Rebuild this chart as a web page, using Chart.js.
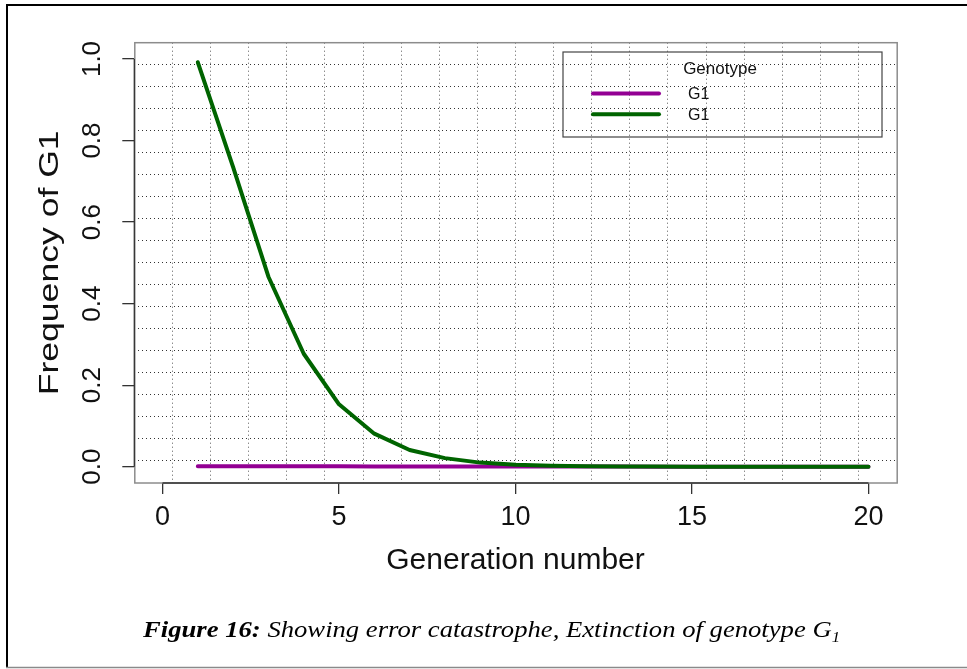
<!DOCTYPE html>
<html>
<head>
<meta charset="utf-8">
<title>Figure 16</title>
<script src="https://cdn.jsdelivr.net/npm/chart.js@4.4.1/dist/chart.umd.min.js"></script>
<style>
  html, body { margin: 0; padding: 0; background: #fff; }
  #plot { display: block; }
</style>
</head>
<body>
<canvas id="plot" width="967" height="669"></canvas>
<script>
// generation 1..20
var GENERATIONS = [1, 2, 3, 4, 5, 6, 7, 8, 9, 10, 11, 12, 13, 14, 15, 16, 17, 18, 19, 20];

// frequency of G1
var FREQ_PURPLE = [0.0012, 0.0011, 0.001, 0.0009, 0.0008, 0.0007, 0.0006, 0.0005, 0.0004, 0.0003,
                   0.0003, 0.0002, 0.0002, 0.0001, 0.0001, 0.0001, 0, 0, 0, 0];
var FREQ_GREEN = [0.992, 0.735, 0.466, 0.277, 0.153, 0.081, 0.041, 0.021, 0.010, 0.005,
                  0.0025, 0.0012, 0.0006, 0.0003, 0.00015, 0.00008, 0.00004, 0.00002, 0.00001, 0.000005];

var X_TICKS = [0, 5, 10, 15, 20];
var Y_TICKS = [0, 0.2, 0.4, 0.6, 0.8, 1.0];

var X_TITLE = 'Generation number';
var Y_TITLE = 'Frequency of G1';
var LEGEND_TITLE = 'Genotype';
var LEGEND_LABELS = ['G1', 'G1'];
var SERIES_COLORS = ['#930093', '#006400'];

var X_MIN = -0.8, X_MAX = 20.8;
var Y_MIN = -0.04, Y_MAX = 1.04;
var GRID_DIVS = 20;

var SANS = '"Liberation Sans", Arial, sans-serif';
var SERIF = '"Liberation Serif", "Times New Roman", serif';

function toPoints(ys) {
  return GENERATIONS.map(function (g, i) { return { x: g, y: ys[i] }; });
}

function fixedTicks(values) {
  return function (scale) {
    scale.ticks = values.map(function (v) { return { value: v }; });
  };
}

// R's grid(): equally spaced lines across the plotting region
function gridTicks(scale) {
  var out = [];
  var step = (scale.max - scale.min) / GRID_DIVS;
  for (var k = 1; k < GRID_DIVS; k++) out.push({ value: scale.min + k * step });
  scale.ticks = out;
}

var decor = {
  id: 'decor',
  beforeDraw: function (chart) {
    var ctx = chart.ctx;
    ctx.save();
    ctx.fillStyle = '#fff';
    ctx.fillRect(0, 0, chart.width, chart.height);
    ctx.restore();
  },
  afterDraw: function (chart) {
    var ctx = chart.ctx;
    var a = chart.chartArea;
    var xs = chart.scales.x, ys = chart.scales.y;
    ctx.save();

    // plot box
    ctx.strokeStyle = '#8c8c8c';
    ctx.lineWidth = 1.5;
    ctx.strokeRect(a.left + 0.5, a.top, a.right - a.left, a.bottom - a.top);

    // axis lines from first to last tick
    ctx.strokeStyle = '#333';
    ctx.lineWidth = 1.3;
    ctx.beginPath();
    ctx.moveTo(a.left, ys.getPixelForValue(Y_TICKS[0]));
    ctx.lineTo(a.left, ys.getPixelForValue(Y_TICKS[Y_TICKS.length - 1]));
    ctx.moveTo(xs.getPixelForValue(X_TICKS[0]), a.bottom);
    ctx.lineTo(xs.getPixelForValue(X_TICKS[X_TICKS.length - 1]), a.bottom);
    ctx.stroke();

    // y tick labels, parallel to the axis
    ctx.fillStyle = '#111';
    ctx.font = '26px ' + SANS;
    ctx.textAlign = 'center';
    ctx.textBaseline = 'middle';
    ys.ticks.forEach(function (t) {
      ctx.save();
      ctx.translate(93, ys.getPixelForValue(t.value));
      ctx.rotate(-Math.PI / 2);
      ctx.fillText(t.value.toFixed(1), 0, 0);
      ctx.restore();
    });

    // y axis title (stretched along its length like the source)
    ctx.save();
    ctx.font = '28px ' + SANS;
    ctx.translate(50, (a.top + a.bottom) / 2);
    ctx.rotate(-Math.PI / 2);
    ctx.scale(265 / ctx.measureText(Y_TITLE).width, 1);
    ctx.fillText(Y_TITLE, 0, 0);
    ctx.restore();

    // legend
    var lx = 563, ly = 52, lw = 319, lh = 85;
    ctx.strokeStyle = '#444';
    ctx.lineWidth = 1.2;
    ctx.strokeRect(lx, ly, lw, lh);
    ctx.fillStyle = '#111';
    ctx.textAlign = 'center';
    ctx.font = '17px ' + SANS;
    ctx.fillText(LEGEND_TITLE, 720, 69);
    ctx.textAlign = 'left';
    ctx.font = '16px ' + SANS;
    LEGEND_LABELS.forEach(function (lab, i) {
      var yy = 93.5 + i * 20.7;
      ctx.strokeStyle = SERIES_COLORS[i];
      ctx.lineWidth = 4;
      ctx.lineCap = 'round';
      ctx.beginPath();
      ctx.moveTo(593, yy);
      ctx.lineTo(659, yy);
      ctx.stroke();
      ctx.fillText(lab, 688, yy + 1);
    });

    // outer frame
    ctx.lineCap = 'butt';
    ctx.strokeStyle = '#000';
    ctx.lineWidth = 2;
    ctx.beginPath();
    ctx.moveTo(6, 5);
    ctx.lineTo(chart.width, 5);
    ctx.moveTo(7, 4);
    ctx.lineTo(7, 668);
    ctx.stroke();
    ctx.strokeStyle = '#8a8a8a';
    ctx.lineWidth = 1.5;
    ctx.beginPath();
    ctx.moveTo(6, 667.5);
    ctx.lineTo(chart.width, 667.5);
    ctx.stroke();

    // caption, fitted to the source width
    var p1 = 'Figure 16:';
    var p2 = ' Showing error catastrophe, Extinction of genotype G';
    var fBold = 'bold italic 24px ' + SERIF;
    var fIt = 'italic 24px ' + SERIF;
    var fSub = 'italic 15px ' + SERIF;
    ctx.font = fBold; var w1 = ctx.measureText(p1).width;
    ctx.font = fIt; var w2 = ctx.measureText(p2).width;
    ctx.font = fSub; var w3 = ctx.measureText('1').width;
    var sx = 697 / (w1 + w2 + w3);
    ctx.save();
    ctx.translate(143, 637);
    ctx.scale(sx, 1);
    ctx.fillStyle = '#000';
    ctx.textAlign = 'left';
    ctx.textBaseline = 'alphabetic';
    ctx.font = fBold; ctx.fillText(p1, 0, 0);
    ctx.font = fIt; ctx.fillText(p2, w1, 0);
    ctx.font = fSub; ctx.fillText('1', w1 + w2, 5);
    ctx.restore();

    ctx.restore();
  }
};

new Chart(document.getElementById('plot'), {
  type: 'line',
  data: {
    datasets: [{
      label: LEGEND_LABELS[0],
      data: toPoints(FREQ_PURPLE),
      borderColor: SERIES_COLORS[0],
      borderWidth: 4,
      pointRadius: 0,
      tension: 0,
      borderCapStyle: 'round',
      borderJoinStyle: 'round',
      order: 1
    }, {
      label: LEGEND_LABELS[1],
      data: toPoints(FREQ_GREEN),
      borderColor: SERIES_COLORS[1],
      borderWidth: 4,
      pointRadius: 0,
      tension: 0,
      borderCapStyle: 'round',
      borderJoinStyle: 'round',
      order: 0
    }]
  },
  options: {
    responsive: false,
    animation: false,
    devicePixelRatio: 1,
    layout: { padding: { left: 0, right: 70.3, top: 42.7, bottom: 90 } },
    plugins: {
      legend: { display: false },
      tooltip: { enabled: false }
    },
    scales: {
      x: {
        type: 'linear',
        min: X_MIN, max: X_MAX,
        bounds: 'data',
        afterBuildTicks: fixedTicks(X_TICKS),
        afterFit: function (s) { s.height = 96; },
        grid: { drawOnChartArea: false, drawTicks: true, tickLength: 11, color: '#333', lineWidth: 1.3 },
        border: { display: false },
        ticks: { color: '#111', font: { family: SANS, size: 27 }, padding: 7, maxRotation: 0 },
        title: {
          display: true,
          text: X_TITLE,
          color: '#111',
          font: { family: SANS, size: 30 },
          padding: { top: 0, bottom: 0 }
        }
      },
      xg: {
        type: 'linear',
        axis: 'x',
        position: 'bottom',
        min: X_MIN, max: X_MAX,
        bounds: 'data',
        afterBuildTicks: gridTicks,
        afterFit: function (s) { s.height = 0; },
        ticks: { display: false },
        grid: { drawTicks: false, color: '#5a5a5a', lineWidth: 1 },
        border: { display: false, dash: [1, 3] }
      },
      y: {
        type: 'linear',
        min: Y_MIN, max: Y_MAX,
        bounds: 'data',
        afterBuildTicks: fixedTicks(Y_TICKS),
        afterFit: function (s) { s.width = 134.3; },
        grid: { drawOnChartArea: false, drawTicks: true, tickLength: 12, color: '#333', lineWidth: 1.3 },
        border: { display: false },
        ticks: { display: false },
        title: { display: false }
      },
      yg: {
        type: 'linear',
        axis: 'y',
        position: 'left',
        min: Y_MIN, max: Y_MAX,
        bounds: 'data',
        afterBuildTicks: gridTicks,
        afterFit: function (s) { s.width = 0; },
        ticks: { display: false },
        grid: { drawTicks: false, color: '#333', lineWidth: 1 },
        border: { display: false, dash: [1, 3] }
      }
    }
  },
  plugins: [decor]
});
</script>
</body>
</html>
